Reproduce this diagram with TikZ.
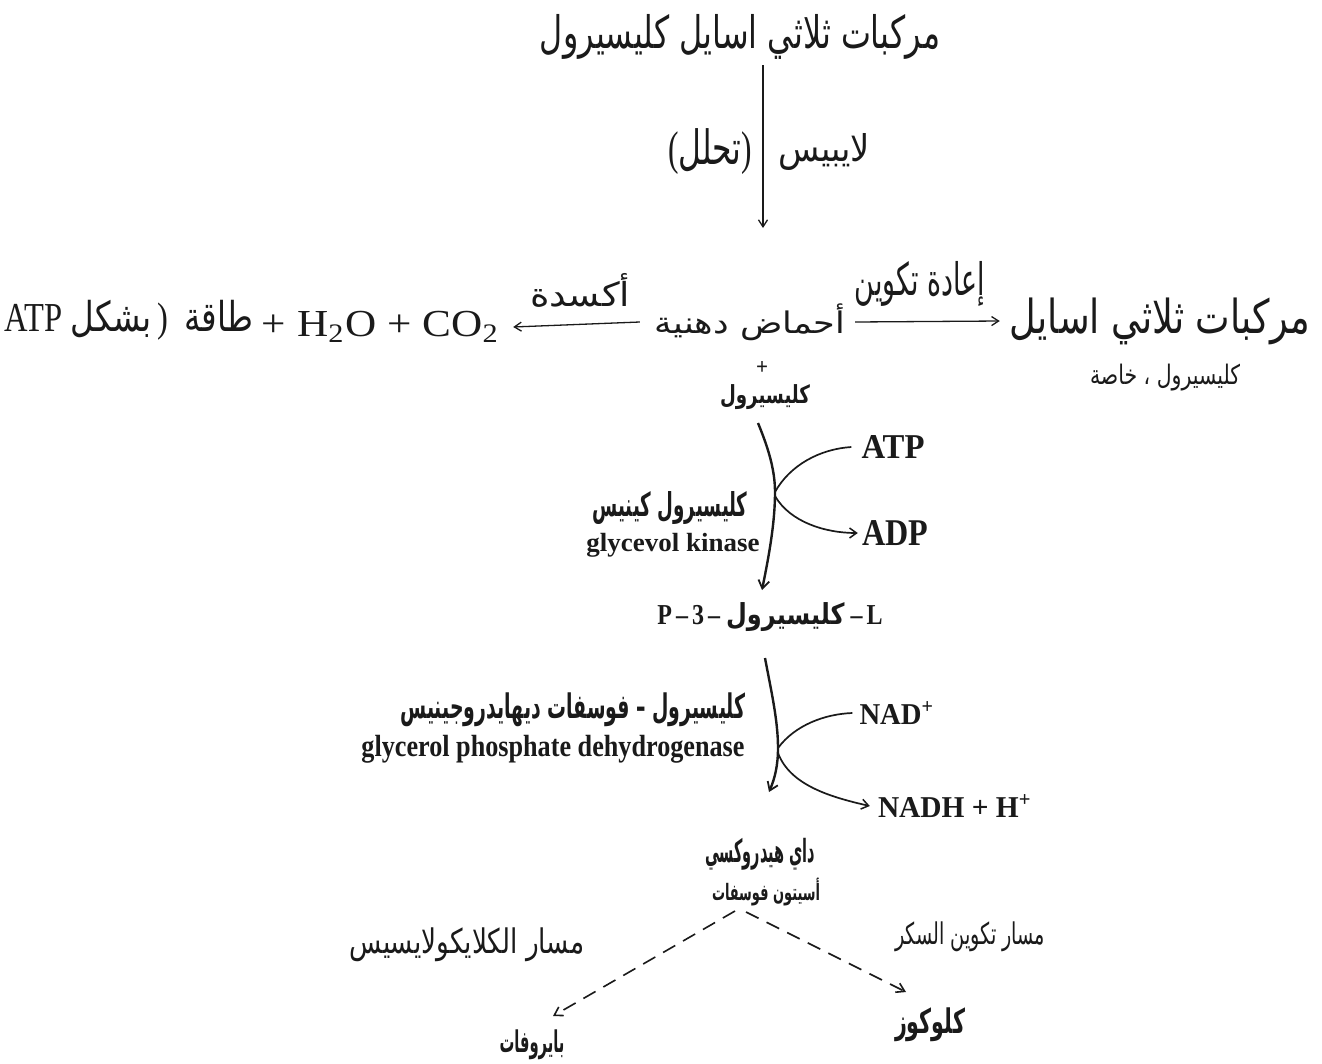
\documentclass[tikz,border=0pt]{standalone}
\usepackage{fontspec}
\usepackage{graphicx}
\setmainfont{Liberation Serif}
\newfontfamily\ar[Script=Arabic]{DejaVu Sans}
\TeXXeTstate=1
\usetikzlibrary{arrows.meta}
\newcommand\fit[3]{\resizebox*{#1}{#2}{#3}}
\newcommand\AR[1]{{\ar\beginR #1\endR}}
\newcommand\ARB[1]{{\ar\bfseries\beginR #1\endR}}
\begin{document}
\begin{tikzpicture}[x=1pt,y=-1pt,
  lbl/.style={inner sep=0pt, anchor=center, text=ink},
  thinarr/.style={draw=ink, line width=1.3pt, -{Straight Barb[length=7pt,width=9pt,line width=1.3pt]}},
  curvearr/.style={draw=ink, line width=2.4pt, -{Straight Barb[length=8pt,width=11pt,line width=1.8pt]}},
  branch/.style={draw=ink, line width=1.7pt},
  brancharr/.style={draw=ink, line width=1.7pt, -{Straight Barb[length=7pt,width=10pt,line width=1.5pt]}},
  dasharr/.style={draw=ink, line width=1.6pt, dash pattern=on 14pt off 9pt, -{Straight Barb[length=8pt,width=10pt,line width=1.6pt]}}
]
\definecolor{ink}{HTML}{1A1A1A}
\fill[white] (0,0) rectangle (1322,1063);
\useasboundingbox (0,0) rectangle (1322,1063);

% top
\node[lbl] (tag) at (740,37) {\fit{400pt}{45pt}{\AR{مركبات ثلاثي اسايل كليسيرول}}};
\node[lbl] (tahl) at (710,152) {\fit{84pt}{46pt}{(\AR{تحلل})}};
\node[lbl] (lipase) at (824,152) {\fit{92pt}{37pt}{\AR{لايبيس}}};
\coordinate (lipTop) at (763,65);
\coordinate (lipEnd) at (763,228);
\draw[thinarr] (lipTop) -- (lipEnd);

% middle row
\node[lbl] (fa) at (750,322) {\fit{190pt}{37pt}{\AR{أحماض دهنية}}};
\node[lbl] (energy) at (129,320) {\fit{248pt}{40pt}{ATP \AR{بشكل}\,)\enspace\AR{طاقة}}};
\node[lbl] (water) at (381,327) {\fit{238pt}{31pt}{+ H\textsubscript{2}O + CO\textsubscript{2}}};
\node[lbl] (oxid) at (580,290) {\fit{100pt}{34pt}{\AR{أكسدة}}};
\node[lbl] (tag2) at (1160,321) {\fit{300pt}{47pt}{\AR{مركبات ثلاثي اسايل}}};
\node[lbl] (tag2b) at (1165,378) {\fit{150pt}{27pt}{\AR{كليسيرول ، خاصة}}};
\node[lbl] (reform) at (920,284) {\fit{130pt}{45pt}{\AR{إعادة تكوين}}};
\draw[thinarr] ([xshift=-15pt]fa.west) -- ([xshift=13pt]water.east);
\draw[thinarr] ([xshift=10pt]fa.east) -- ([xshift=-10pt]tag2.west);

% glycerol
\node[lbl] (plus) at (762,368) {\fit{12pt}{13pt}{\bfseries +}};
\node[lbl] (glyc) at (765,397) {\fit{90pt}{25pt}{\ARB{كليسيرول}}};
\coordinate (c1s) at (758,423);
\coordinate (j1) at (775,492);
\coordinate (c1e) at (762,590);
\draw[curvearr] (c1s) .. controls (767,445) and (775,468) .. (j1) .. controls (775,525) and (768,560) .. (c1e);
\node[lbl] (atp) at (893,447) {\fit{63pt}{23pt}{\bfseries ATP}};
\node[lbl] (adp) at (895,533) {\fit{66pt}{25pt}{\bfseries ADP}};
\draw[branch] (j1) .. controls (790,465) and (820,449) .. ([xshift=-10pt]atp.west);
\draw[brancharr] ([yshift=-4pt]j1) .. controls (790,522) and (825,533) .. ([xshift=-4pt]adp.west);
\node[lbl] (kinAr) at (670,508) {\fit{155pt}{33pt}{\ARB{كليسيرول كينيس}}};
\node[lbl] (kinEn) at (673,545) {\fit{173pt}{24pt}{\bfseries glycevol kinase}};

% glycerol-3-phosphate
\node[lbl] (g3p) at (770,617) {\fit{225pt}{29pt}{\bfseries P\,–\,3\,– \ARB{كليسيرول} –\,L}};
\coordinate (c2s) at (765,658);
\coordinate (j2) at (778,748);
\coordinate (c2e) at (769,792);
\draw[curvearr] (c2s) .. controls (771,690) and (778,720) .. (j2) .. controls (778,765) and (775,778) .. (c2e);
\node[lbl] (nad) at (897,713) {\fit{75pt}{23pt}{\bfseries NAD\textsuperscript{+}}};
\node[lbl] (nadh) at (955,806) {\fit{154pt}{23pt}{\bfseries NADH + H\textsuperscript{+}}};
\draw[branch] (j2) .. controls (795,725) and (825,714) .. ([xshift=-7pt]nad.west);
\draw[brancharr] ([yshift=-5pt]j2) .. controls (790,785) and (830,797) .. ([xshift=-8pt]nadh.west);
\node[lbl] (dhAr) at (573,710) {\fit{345pt}{34pt}{\ARB{كليسيرول – فوسفات ديهايدروجينيس}}};
\node[lbl] (dhEn) at (553,749) {\fit{383pt}{28pt}{\bfseries glycerol phosphate dehydrogenase}};

% DHAP
\node[lbl] (dhap1) at (760,854) {\fit{110pt}{32pt}{\ARB{داي هيدروكسي}}};
\node[lbl] (dhap2) at (766,892) {\fit{108pt}{28pt}{\ARB{أسيتون فوسفات}}};
\node[lbl] (pyr) at (532,1045) {\fit{65pt}{30pt}{\ARB{بايروفات}}};
\node[lbl] (glc) at (930,1025) {\fit{70pt}{34pt}{\ARB{كلوكوز}}};
\node[lbl] (glyLbl) at (467,945) {\fit{235pt}{34pt}{\AR{مسار الكلايكولايسيس}}};
\node[lbl] (gngLbl) at (970,937) {\fit{150pt}{30pt}{\AR{مسار تكوين السكر}}};
\coordinate (d1s) at (735,911);
\coordinate (d1e) at (553,1016);
\coordinate (d2s) at (746,912);
\coordinate (d2e) at (906,992);
\draw[dasharr] (d1s) -- (d1e);
\draw[dasharr] (d2s) -- (d2e);
\end{tikzpicture}
\end{document}
